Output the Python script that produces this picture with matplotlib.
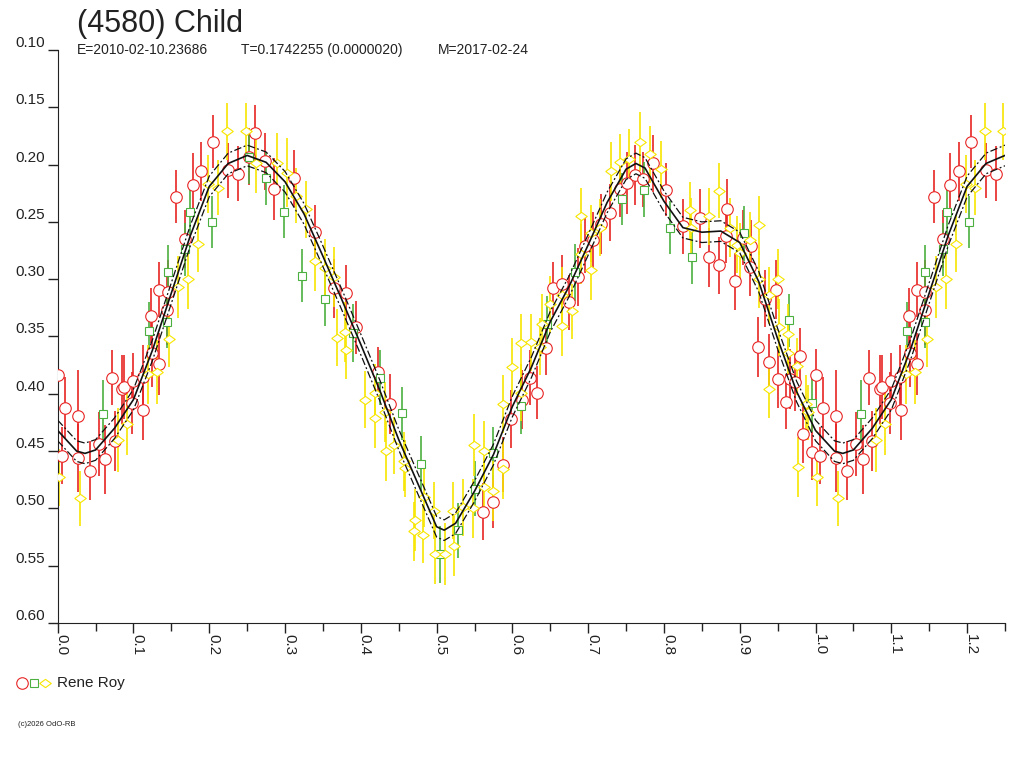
import matplotlib.pyplot as plt
import numpy as np
from matplotlib.lines import Line2D

plt.rcParams['font.family'] = ['Liberation Sans', 'DejaVu Sans']

# --- observaties (fase, magnitude, fout) ---
red_phase = [0.000, 0.006, 0.010, 0.027, 0.027, 0.042, 0.054, 0.063, 0.071, 0.075,
             0.085, 0.088, 0.098, 0.100, 0.112, 0.113, 0.123, 0.124, 0.134, 0.134,
             0.144, 0.145, 0.156, 0.168, 0.178, 0.189, 0.205, 0.225, 0.238, 0.252,
             0.261, 0.273, 0.286, 0.312, 0.339, 0.365, 0.380, 0.394, 0.423, 0.438,
             0.561, 0.575, 0.588, 0.598, 0.613, 0.623, 0.633, 0.644, 0.654, 0.665,
             0.675, 0.686, 0.696, 0.707, 0.717, 0.729, 0.742, 0.751, 0.762, 0.772,
             0.785, 0.803, 0.825, 0.848, 0.860, 0.872, 0.882, 0.883, 0.894, 0.904,
             0.913, 0.915, 0.924, 0.933, 0.938, 0.948, 0.951, 0.961, 0.966, 0.973,
             0.979, 0.983, 0.995]
red_mag = [0.384, 0.454, 0.412, 0.419, 0.456, 0.467, 0.444, 0.457, 0.386, 0.441,
           0.396, 0.394, 0.408, 0.389, 0.385, 0.414, 0.332, 0.364, 0.374, 0.309,
           0.327, 0.311, 0.228, 0.265, 0.218, 0.206, 0.180, 0.205, 0.208, 0.193,
           0.172, 0.197, 0.221, 0.212, 0.259, 0.308, 0.312, 0.342, 0.381, 0.409,
           0.503, 0.494, 0.462, 0.422, 0.405, 0.386, 0.399, 0.360, 0.308, 0.304,
           0.320, 0.298, 0.271, 0.266, 0.252, 0.242, 0.221, 0.216, 0.209, 0.213,
           0.199, 0.222, 0.254, 0.247, 0.281, 0.288, 0.262, 0.239, 0.302, 0.264,
           0.289, 0.271, 0.359, 0.317, 0.372, 0.309, 0.387, 0.407, 0.387, 0.390,
           0.367, 0.435, 0.451]
red_err = [0.023, 0.025, 0.027, 0.040, 0.030, 0.026, 0.028, 0.030, 0.024, 0.026,
           0.030, 0.028, 0.027, 0.025, 0.028, 0.026, 0.024, 0.030, 0.027, 0.024,
           0.030, 0.028, 0.023, 0.025, 0.028, 0.026, 0.023, 0.024, 0.024, 0.025,
           0.024, 0.025, 0.027, 0.025, 0.024, 0.026, 0.024, 0.023, 0.022, 0.026,
           0.025, 0.023, 0.024, 0.025, 0.026, 0.024, 0.023, 0.024, 0.023, 0.025,
           0.024, 0.025, 0.024, 0.025, 0.026, 0.025, 0.025, 0.027, 0.026, 0.024,
           0.025, 0.023, 0.024, 0.026, 0.026, 0.025, 0.024, 0.026, 0.025, 0.024,
           0.026, 0.023, 0.026, 0.025, 0.024, 0.026, 0.025, 0.024, 0.026, 0.025,
           0.024, 0.025, 0.024]

green_phase = [0.060, 0.121, 0.144, 0.145, 0.168, 0.174, 0.203, 0.252, 0.275, 0.299,
               0.322, 0.353, 0.390, 0.425, 0.454, 0.479, 0.504, 0.528, 0.551, 0.574,
               0.611, 0.645, 0.682, 0.744, 0.774, 0.808, 0.837, 0.906, 0.965, 0.995]
green_mag = [0.418, 0.345, 0.337, 0.294, 0.274, 0.241, 0.250, 0.193, 0.212, 0.241,
             0.297, 0.317, 0.347, 0.386, 0.417, 0.461, 0.540, 0.519, 0.483, 0.452,
             0.411, 0.339, 0.294, 0.230, 0.222, 0.255, 0.281, 0.260, 0.336, 0.408]
green_err = [0.030, 0.025, 0.023, 0.024, 0.023, 0.025, 0.023, 0.024, 0.023, 0.023,
             0.023, 0.024, 0.025, 0.024, 0.023, 0.024, 0.025, 0.024, 0.024, 0.023,
             0.024, 0.024, 0.025, 0.023, 0.024, 0.023, 0.023, 0.024, 0.023, 0.025]

yellow_phase = [0.002, 0.030, 0.080, 0.092, 0.119, 0.131, 0.147, 0.159, 0.172, 0.185,
                0.198, 0.211, 0.223, 0.248, 0.262, 0.290, 0.303, 0.315, 0.328, 0.340,
                0.353, 0.365, 0.368, 0.379, 0.380, 0.406, 0.419, 0.419, 0.432, 0.433,
                0.444, 0.457, 0.458, 0.470, 0.471, 0.482, 0.483, 0.496, 0.498, 0.511,
                0.521, 0.523, 0.535, 0.548, 0.549, 0.562, 0.562, 0.575, 0.587, 0.587,
                0.600, 0.611, 0.612, 0.625, 0.637, 0.639, 0.650, 0.666, 0.666, 0.678,
                0.691, 0.691, 0.704, 0.704, 0.716, 0.730, 0.742, 0.754, 0.768, 0.781,
                0.796, 0.834, 0.836, 0.860, 0.872, 0.887, 0.896, 0.900, 0.913, 0.926,
                0.926, 0.938, 0.938, 0.951, 0.952, 0.964, 0.964, 0.976, 0.977, 0.987,
                0.990]
yellow_mag = [0.473, 0.491, 0.440, 0.426, 0.383, 0.381, 0.352, 0.307, 0.300, 0.269,
              0.217, 0.220, 0.171, 0.171, 0.199, 0.199, 0.207, 0.227, 0.239, 0.284,
              0.290, 0.298, 0.351, 0.346, 0.362, 0.405, 0.421, 0.399, 0.416, 0.450,
              0.445, 0.459, 0.465, 0.520, 0.510, 0.523, 0.490, 0.502, 0.540, 0.540,
              0.502, 0.533, 0.499, 0.500, 0.445, 0.450, 0.481, 0.485, 0.466, 0.409,
              0.377, 0.399, 0.356, 0.355, 0.359, 0.339, 0.322, 0.341, 0.314, 0.328,
              0.245, 0.278, 0.260, 0.292, 0.255, 0.206, 0.198, 0.195, 0.180, 0.191,
              0.204, 0.240, 0.255, 0.245, 0.223, 0.255, 0.270, 0.277, 0.266, 0.253,
              0.300, 0.314, 0.396, 0.300, 0.342, 0.348, 0.364, 0.376, 0.464, 0.409,
              0.416]
yellow_err = [0.025, 0.024, 0.028, 0.027, 0.026, 0.028, 0.025, 0.027, 0.026, 0.025,
              0.025, 0.024, 0.025, 0.025, 0.026, 0.027, 0.030, 0.024, 0.025, 0.026,
              0.025, 0.026, 0.025, 0.026, 0.025, 0.025, 0.026, 0.025, 0.026, 0.026,
              0.025, 0.026, 0.025, 0.026, 0.027, 0.025, 0.026, 0.025, 0.026, 0.027,
              0.025, 0.026, 0.025, 0.026, 0.027, 0.026, 0.025, 0.026, 0.026, 0.025,
              0.026, 0.025, 0.026, 0.025, 0.025, 0.026, 0.025, 0.026, 0.025, 0.024,
              0.025, 0.026, 0.025, 0.026, 0.025, 0.026, 0.025, 0.026, 0.026, 0.025,
              0.025, 0.025, 0.026, 0.025, 0.024, 0.026, 0.025, 0.026, 0.025, 0.026,
              0.025, 0.025, 0.025, 0.026, 0.025, 0.026, 0.025, 0.025, 0.026, 0.025,
              0.024]

fit_phase = [0.000, 0.025, 0.036, 0.050, 0.075, 0.100, 0.125, 0.150, 0.175, 0.200,
             0.225, 0.250, 0.275, 0.300, 0.325, 0.350, 0.375, 0.400, 0.425, 0.450,
             0.475, 0.500, 0.510, 0.525, 0.550, 0.575, 0.600, 0.625, 0.650, 0.675,
             0.700, 0.725, 0.750, 0.763, 0.775, 0.800, 0.825, 0.850, 0.875, 0.900,
             0.925, 0.950, 0.975, 1.000]
fit_mag = [0.432, 0.450, 0.452, 0.449, 0.430, 0.405, 0.362, 0.312, 0.262, 0.219,
           0.199, 0.192, 0.198, 0.215, 0.243, 0.280, 0.318, 0.357, 0.397, 0.440,
           0.478, 0.516, 0.519, 0.513, 0.485, 0.453, 0.411, 0.377, 0.337, 0.306,
           0.270, 0.233, 0.204, 0.199, 0.203, 0.232, 0.255, 0.259, 0.258, 0.268,
           0.302, 0.352, 0.398, 0.432]
fit_rms = 0.009

x_ticks_labels = ['0.0', '0.1', '0.2', '0.3', '0.4', '0.5', '0.6',
                  '0.7', '0.8', '0.9', '1.0', '1.1', '1.2']
y_ticks_labels = ['0.10', '0.15', '0.20', '0.25', '0.30', '0.35',
                  '0.40', '0.45', '0.50', '0.55', '0.60']

title = '(4580) Child'
sub_epoch = 'E=2010-02-10.23686'
sub_period = 'T=0.1742255 (0.0000020)'
sub_date = 'M=2017-02-24'
observer = 'Rene Roy'
copyright_txt = '(c)2026 OdO-RB'

RED = '#e82424'
GREEN = '#4cb040'
YELLOW = '#f7e600'
TXT = '#222222'

# platte ruit
flat_diamond = [(-1, 0), (0, 0.72), (1, 0), (0, -0.72), (-1, 0)]


def wrap(phase, mag, err):
    # fase 0..0.25 nogmaals tonen op 1.0..1.25
    p = np.array(phase)
    m = np.array(mag)
    e = np.array(err)
    sel = p <= 0.25
    return (np.concatenate([p, p[sel] + 1.0]),
            np.concatenate([m, m[sel]]),
            np.concatenate([e, e[sel]]))


fig = plt.figure(figsize=(10.24, 7.68), dpi=100)
ax = fig.add_axes([57.7 / 1024, 1 - 623 / 768, (1005 - 57.7) / 1024, (623 - 50) / 768])

series = [
    (red_phase, red_mag, red_err, RED, 'o', 8.3),
    (green_phase, green_mag, green_err, GREEN, 's', 5.8),
    (yellow_phase, yellow_mag, yellow_err, YELLOW, flat_diamond, 8.3),
]
for ph, mg, er, col, mk, ms in series:
    p, m, e = wrap(ph, mg, er)
    ax.errorbar(p, m, yerr=e, fmt='none', ecolor=col, elinewidth=1.2, capsize=0, zorder=2)
    ax.plot(p, m, linestyle='none', marker=mk, ms=ms, mfc='white', mec=col, mew=0.8, zorder=3)

fp = np.array(fit_phase)
fm = np.array(fit_mag)
sel = fp <= 0.25
fp = np.concatenate([fp, fp[sel][1:] + 1.0])
fm = np.concatenate([fm, fm[sel][1:]])
ax.plot(fp, fm, color='#111111', lw=1.2, zorder=5)
ax.plot(fp, fm - fit_rms, color='#111111', lw=0.9, ls=(0, (6, 2, 1.5, 2)), zorder=5)
ax.plot(fp, fm + fit_rms, color='#111111', lw=0.9, ls=(0, (6, 2, 1.5, 2)), zorder=5)

ax.set_xlim(0, 1.25)
ax.set_ylim(0.60, 0.10)

for s in ['top', 'right']:
    ax.spines[s].set_visible(False)
ax.spines['left'].set_color(TXT)
ax.spines['bottom'].set_color(TXT)

ax.set_xticks(np.arange(len(x_ticks_labels)) * 0.1)
ax.set_xticklabels(x_ticks_labels)
ax.set_xticks(np.arange(0.05, 1.26, 0.1), minor=True)
ax.set_yticks(np.arange(len(y_ticks_labels)) * 0.05 + 0.10)
ax.set_yticklabels(y_ticks_labels)

ax.tick_params(axis='x', which='major', length=7.2, width=1, pad=1, colors=TXT, labelsize=11)
ax.tick_params(axis='x', which='minor', length=5.8, width=1, colors=TXT)
ax.tick_params(axis='y', length=7.2, width=1, pad=2, colors=TXT, labelsize=11)

plt.setp(ax.get_xticklabels(), rotation=-90, rotation_mode='anchor', ha='left', va='baseline')
plt.setp(ax.get_yticklabels(), va='bottom')

fig.text(77 / 1024, 1 - 32 / 768, title, fontsize=22, color=TXT, va='baseline')
fig.text(77 / 1024, 1 - 54 / 768, sub_epoch, fontsize=10, color=TXT, va='baseline')
fig.text(241 / 1024, 1 - 54 / 768, sub_period, fontsize=10, color=TXT, va='baseline')
fig.text(438 / 1024, 1 - 54 / 768, sub_date, fontsize=10, color=TXT, va='baseline')

# legenda onder de grafiek
fy = 1 - 683 / 768
fig.add_artist(Line2D([22 / 1024], [fy], marker='o', ms=8.3, mfc='white', mec=RED, mew=0.8,
                      transform=fig.transFigure))
fig.add_artist(Line2D([34 / 1024], [fy], marker='s', ms=5.8, mfc='white', mec=GREEN, mew=0.8,
                      transform=fig.transFigure))
fig.add_artist(Line2D([45 / 1024], [fy], marker=flat_diamond, ms=8.3, mfc='white', mec=YELLOW,
                      mew=0.8, transform=fig.transFigure))
fig.text(57 / 1024, fy, observer, fontsize=11, color=TXT, va='center')

fig.text(18 / 1024, 1 - 725 / 768, copyright_txt, fontsize=5.5, color=TXT, va='center')

plt.savefig('out.png', dpi=100)
